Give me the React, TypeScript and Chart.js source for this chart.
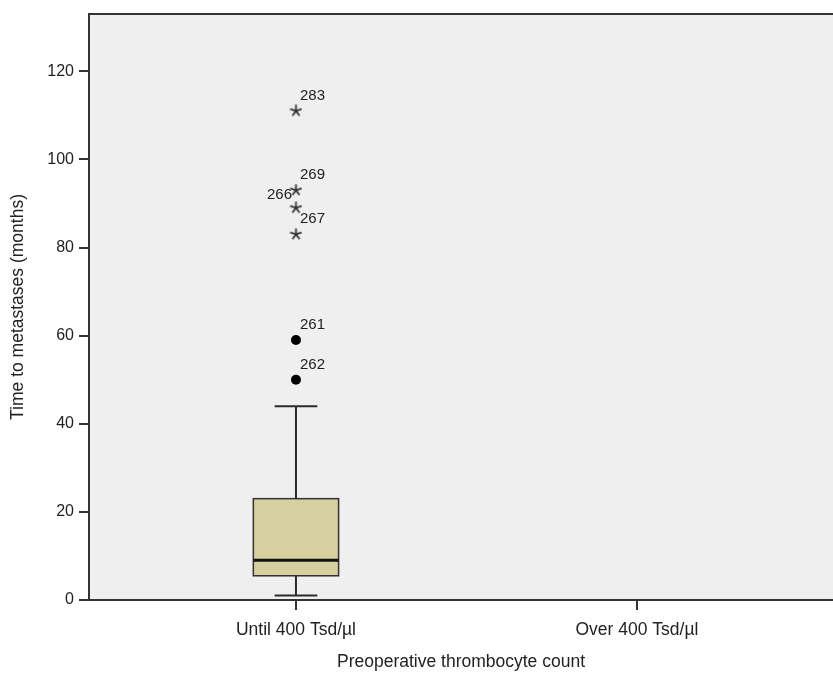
import React, { useEffect, useRef } from "react";
import { Chart, registerables } from "chart.js";

Chart.register(...registerables);

// ---- Data ----
const categories = ["Until 400 Tsd/µl", "Over 400 Tsd/µl"];
const whiskerLow = [1, null];
const quartile1 = [5.5, null];
const medians = [9, null];
const quartile3 = [23, null];
const whiskerHigh = [44, null];

const outlierValues = [59, 50];
const outlierIds = ["261", "262"];
const outlierSide = ["right", "right"];

const extremeValues = [111, 93, 89, 83];
const extremeIds = ["283", "269", "266", "267"];
const extremeSide = ["right", "right", "left", "right"];

const yTicks = [0, 20, 40, 60, 80, 100, 120];
const yMin = 0;
const yMax = 133;

const FONT = "'Liberation Sans', Arial, sans-serif";

function makeStar(): HTMLCanvasElement {
  const c = document.createElement("canvas");
  c.width = 13;
  c.height = 13;
  const ctx = c.getContext("2d")!;
  ctx.strokeStyle = "#2a2a2a";
  ctx.lineWidth = 1.7;
  ctx.lineCap = "butt";
  ctx.beginPath();
  for (let i = 0; i < 5; i++) {
    const a = -Math.PI / 2 + (i * 2 * Math.PI) / 5;
    ctx.moveTo(6.5, 6.5);
    ctx.lineTo(6.5 + Math.cos(a) * 6, 6.5 + Math.sin(a) * 6);
  }
  ctx.stroke();
  return c;
}

const boxPlugin = {
  id: "boxPlugin",
  beforeDraw(chart: any) {
    const { ctx, chartArea } = chart;
    ctx.save();
    ctx.fillStyle = "#efefef";
    ctx.fillRect(chartArea.left, chartArea.top, chartArea.right - chartArea.left, chartArea.bottom - chartArea.top);
    ctx.strokeStyle = "#333";
    ctx.lineWidth = 2;
    ctx.beginPath();
    ctx.moveTo(chartArea.left, chartArea.top);
    ctx.lineTo(chartArea.right, chartArea.top);
    ctx.stroke();
    ctx.restore();
  },
  beforeDatasetsDraw(chart: any) {
    const { ctx } = chart;
    const xs = chart.scales.x;
    const ys = chart.scales.y;
    ctx.save();
    categories.forEach((_, i) => {
      if (quartile1[i] == null) return;
      const cx = xs.getPixelForValue(i);
      const bl = xs.getPixelForValue(i - 0.125);
      const br = xs.getPixelForValue(i + 0.125);
      const cl = xs.getPixelForValue(i - 0.0625);
      const cr = xs.getPixelForValue(i + 0.0625);
      const pLo = ys.getPixelForValue(whiskerLow[i]);
      const pQ1 = ys.getPixelForValue(quartile1[i]);
      const pMed = ys.getPixelForValue(medians[i]);
      const pQ3 = ys.getPixelForValue(quartile3[i]);
      const pHi = ys.getPixelForValue(whiskerHigh[i]);
      ctx.strokeStyle = "#2b2b2b";
      ctx.lineWidth = 2;
      ctx.beginPath();
      ctx.moveTo(cx, pQ3);
      ctx.lineTo(cx, pHi);
      ctx.moveTo(cl, pHi);
      ctx.lineTo(cr, pHi);
      ctx.moveTo(cx, pQ1);
      ctx.lineTo(cx, pLo);
      ctx.moveTo(cl, pLo);
      ctx.lineTo(cr, pLo);
      ctx.stroke();
      ctx.fillStyle = "#d6cf9f";
      ctx.fillRect(bl, pQ3, br - bl, pQ1 - pQ3);
      ctx.lineWidth = 1.5;
      ctx.strokeStyle = "#333";
      ctx.strokeRect(bl, pQ3, br - bl, pQ1 - pQ3);
      ctx.lineWidth = 3;
      ctx.strokeStyle = "#111";
      ctx.beginPath();
      ctx.moveTo(bl, pMed);
      ctx.lineTo(br, pMed);
      ctx.stroke();
    });
    ctx.restore();
  },
  afterDatasetsDraw(chart: any) {
    const { ctx } = chart;
    ctx.save();
    ctx.font = `15px ${FONT}`;
    ctx.fillStyle = "#222";
    ctx.textBaseline = "middle";
    const drawLabels = (dsIndex: number, ids: string[], sides: string[]) => {
      const meta = chart.getDatasetMeta(dsIndex);
      meta.data.forEach((pt: any, i: number) => {
        if (sides[i] === "left") {
          ctx.textAlign = "right";
          ctx.fillText(ids[i], pt.x - 4, pt.y - 13);
        } else {
          ctx.textAlign = "left";
          ctx.fillText(ids[i], pt.x + 4, pt.y - 15);
        }
      });
    };
    drawLabels(0, outlierIds, outlierSide);
    drawLabels(1, extremeIds, extremeSide);
    ctx.restore();
  },
};

export default function App() {
  const ref = useRef<HTMLCanvasElement>(null);
  useEffect(() => {
    if (!ref.current) return;
    const star = makeStar();
    const chart = new Chart(ref.current, {
      type: "scatter",
      data: {
        datasets: [
          {
            label: "Outliers",
            data: outlierValues.map((v) => ({ x: 0, y: v })),
            pointStyle: "circle",
            radius: 5,
            backgroundColor: "#000",
            borderColor: "#000",
            borderWidth: 0,
          },
          {
            label: "Extremes",
            data: extremeValues.map((v) => ({ x: 0, y: v })),
            pointStyle: star as any,
            radius: 6,
          },
        ],
      },
      options: {
        animation: false,
        responsive: false,
        devicePixelRatio: 1,
        layout: { autoPadding: false, padding: { top: 14, right: 0, left: 0, bottom: 0 } },
        plugins: {
          legend: { display: false },
          tooltip: { enabled: false },
        },
        scales: {
          x: {
            type: "linear",
            min: -0.607,
            max: 1.575,
            afterBuildTicks: (scale: any) => {
              scale.ticks = categories.map((_, i) => ({ value: i }));
            },
            afterFit: (scale: any) => {
              scale.height = 74;
              scale.paddingLeft = 0;
              scale.paddingRight = 0;
            },
            ticks: {
              callback: (v: any) => categories[Math.round(Number(v))] ?? "",
              font: { family: FONT, size: 17.5 },
              color: "#222",
              padding: 10,
              maxRotation: 0,
              autoSkip: false,
            },
            grid: {
              drawOnChartArea: false,
              drawTicks: true,
              tickLength: 10,
              color: "#333",
              lineWidth: 2,
            },
            border: { display: true, color: "#333", width: 2 },
            title: {
              display: true,
              text: "Preoperative thrombocyte count",
              font: { family: FONT, size: 17.5 },
              color: "#222",
              padding: { top: 0, bottom: 1 },
            },
          },
          y: {
            type: "linear",
            min: yMin,
            max: yMax,
            afterBuildTicks: (scale: any) => {
              scale.ticks = yTicks.map((v) => ({ value: v }));
            },
            afterFit: (scale: any) => {
              scale.width = 89;
              scale.paddingTop = 0;
              scale.paddingBottom = 0;
            },
            ticks: {
              font: { family: FONT, size: 16 },
              color: "#222",
              padding: 5,
            },
            grid: {
              drawOnChartArea: false,
              drawTicks: true,
              tickLength: 10,
              color: "#333",
              lineWidth: 2,
            },
            border: { display: true, color: "#333", width: 2 },
            title: {
              display: true,
              text: "Time to metastases (months)",
              font: { family: FONT, size: 17.5 },
              color: "#222",
              padding: { top: 7.5, bottom: 0 },
            },
          },
        },
      },
      plugins: [boxPlugin],
    });
    return () => chart.destroy();
  }, []);
  return (
    <div style={{ position: "fixed", left: 0, top: 0, width: 833, height: 674, background: "#fff" }}>
      <canvas ref={ref} width={833} height={674} style={{ width: 833, height: 674, display: "block" }} />
    </div>
  );
}
